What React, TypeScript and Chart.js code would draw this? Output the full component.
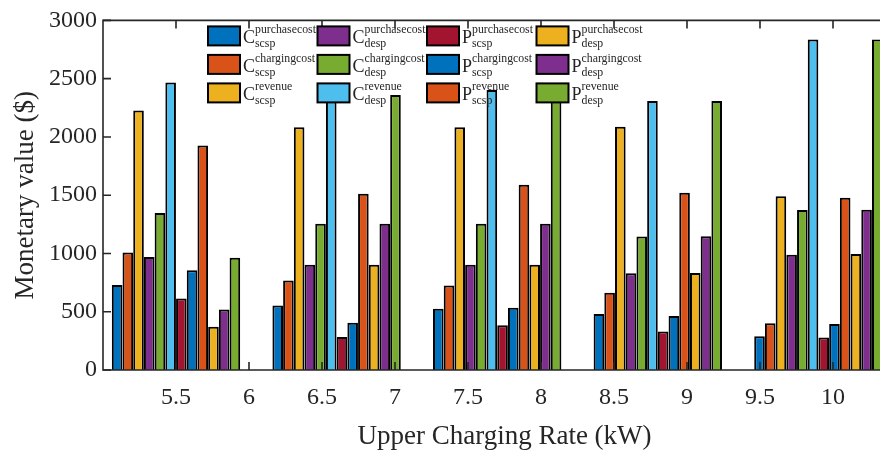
import React, { useEffect, useRef } from "react";
import { Chart, registerables } from "chart.js";

Chart.register(...registerables);

// Group positions on the x axis (kW)
const xValues = [5.5, 6.6, 7.7, 8.8, 9.9];

// Series values ($)
const cPurchaseScsp = [730, 554, 526, 480, 290];
const cChargingScsp = [1009, 767, 725, 662, 401];
const cRevenueScsp = [2226, 2084, 2084, 2087, 1492];
const cPurchaseDesp = [969, 904, 904, 830, 989];
const cChargingDesp = [1347, 1254, 1254, 1146, 1373];
const cRevenueDesp = [2467, 2400, 2402, 2308, 2837];
const pPurchaseScsp = [614, 284, 384, 330, 279];
const pChargingScsp = [856, 406, 534, 463, 395];
const pRevenueScsp = [1927, 1512, 1589, 1521, 1478];
const pPurchaseDesp = [372, 904, 904, 833, 995];
const pChargingDesp = [520, 1254, 1254, 1148, 1376];
const pRevenueDesp = [964, 2359, 2360, 2308, 2837];

const seriesValues = [
  cPurchaseScsp, cChargingScsp, cRevenueScsp,
  cPurchaseDesp, cChargingDesp, cRevenueDesp,
  pPurchaseScsp, pChargingScsp, pRevenueScsp,
  pPurchaseDesp, pChargingDesp, pRevenueDesp,
];

// Legend text parts: main letter, superscript, subscript
const legendMain = ["C", "C", "C", "C", "C", "C", "P", "P", "P", "P", "P", "P"];
const legendSup = [
  "purchasecost", "chargingcost", "revenue",
  "purchasecost", "chargingcost", "revenue",
  "purchasecost", "chargingcost", "revenue",
  "purchasecost", "chargingcost", "revenue",
];
const legendSub = ["scsp", "scsp", "scsp", "desp", "desp", "desp", "scsp", "scsp", "scsp", "desp", "desp", "desp"];

const seriesColors = [
  "#0072BD", "#D95319", "#EDB120",
  "#7E2F8E", "#77AC30", "#4DBEEE",
  "#A2142F", "#0072BD", "#D95319",
  "#EDB120", "#7E2F8E", "#77AC30",
];

const xTickLabels = ["5.5", "6", "6.5", "7", "7.5", "8", "8.5", "9", "9.5", "10"];
const yTickLabels = ["0", "500", "1000", "1500", "2000", "2500", "3000"];

const FONT = "'Liberation Serif', 'Times New Roman', serif";
const INK = "#262626";

const framePlugin = {
  id: "frameAndLegend",
  afterDatasetsDraw(chart: any) {
    const { ctx, chartArea: a, scales } = chart;
    ctx.save();
    ctx.strokeStyle = INK;
    ctx.lineWidth = 1.6;
    ctx.beginPath();
    ctx.rect(a.left, a.top, a.right - a.left, a.bottom - a.top);
    ctx.stroke();
    ctx.beginPath();
    xTickLabels.forEach((t) => {
      const px = scales.x.getPixelForValue(parseFloat(t));
      ctx.moveTo(px, a.bottom);
      ctx.lineTo(px, a.bottom - 8);
      ctx.moveTo(px, a.top);
      ctx.lineTo(px, a.top + 8);
    });
    yTickLabels.forEach((t) => {
      const py = scales.y.getPixelForValue(parseFloat(t));
      ctx.moveTo(a.left, py);
      ctx.lineTo(a.left + 8, py);
      ctx.moveTo(a.right, py);
      ctx.lineTo(a.right - 8, py);
    });
    ctx.stroke();
    ctx.restore();
  },
  afterDraw(chart: any) {
    const { ctx, chartArea: a } = chart;
    ctx.save();
    const x0 = a.left + 105;
    const y0 = a.top + 6;
    const colW = 109.5;
    const rowH = 28.5;
    for (let i = 0; i < seriesValues.length; i++) {
      const col = Math.floor(i / 3);
      const row = i % 3;
      const bx = x0 + col * colW;
      const by = y0 + row * rowH;
      ctx.fillStyle = seriesColors[i];
      ctx.fillRect(bx, by, 32, 19);
      ctx.strokeStyle = "#000";
      ctx.lineWidth = 2;
      ctx.strokeRect(bx, by, 32, 19);
      ctx.fillStyle = INK;
      ctx.textBaseline = "alphabetic";
      ctx.textAlign = "left";
      ctx.font = `18px ${FONT}`;
      const mx = bx + 35;
      ctx.fillText(legendMain[i], mx, by + 17);
      const mw = ctx.measureText(legendMain[i]).width;
      ctx.font = `11.8px ${FONT}`;
      ctx.fillText(legendSup[i], mx + mw, by + 7);
      ctx.fillText(legendSub[i], mx + mw, by + 21);
    }
    ctx.restore();
  },
};

export default function App() {
  const canvasRef = useRef<HTMLCanvasElement | null>(null);

  useEffect(() => {
    const canvas = canvasRef.current;
    if (!canvas) return;
    const chart = new Chart(canvas, {
      type: "bar",
      data: {
        datasets: seriesValues.map((vals, i) => ({
          label: `${legendMain[i]} ${legendSup[i]} ${legendSub[i]}`,
          data: xValues.map((x, j) => ({ x, y: vals[j] })),
          backgroundColor: seriesColors[i],
          borderColor: "#000000",
          borderWidth: 2,
          categoryPercentage: 1.76,
          barPercentage: 0.99,
        })),
      },
      options: {
        responsive: false,
        animation: false,
        devicePixelRatio: 1,
        layout: { padding: { left: 0, top: 13, right: 24, bottom: 0 } },
        plugins: {
          legend: { display: false },
          tooltip: { enabled: false },
        },
        scales: {
          x: {
            type: "linear",
            min: 5,
            max: 10.5,
            offset: false,
            grid: { display: false, drawTicks: false },
            border: { display: false },
            ticks: {
              stepSize: 0.5,
              autoSkip: false,
              maxRotation: 0,
              padding: 13,
              color: INK,
              font: { family: FONT, size: 24 },
              callback: (v: any) => {
                const s = String(v);
                return xTickLabels.includes(s) ? s : "";
              },
            },
            title: {
              display: true,
              text: "Upper Charging Rate (kW)",
              color: INK,
              font: { family: FONT, size: 27 },
              padding: { top: 0, bottom: 1 },
            },
            afterFit: (s: any) => {
              s.height = 84;
            },
          },
          y: {
            min: 0,
            max: 3000,
            grid: { display: false, drawTicks: false },
            border: { display: false },
            ticks: {
              stepSize: 500,
              padding: 6,
              color: INK,
              font: { family: FONT, size: 24 },
              callback: (v: any) => {
                const s = String(v);
                return yTickLabels.includes(s) ? s : "";
              },
            },
            title: {
              display: true,
              text: "Monetary value ($)",
              color: INK,
              font: { family: FONT, size: 27 },
              padding: { top: 10, bottom: 0 },
            },
            afterFit: (s: any) => {
              s.width = 103;
            },
          },
        },
      },
      plugins: [framePlugin],
    });
    return () => chart.destroy();
  }, []);

  return (
    <div
      style={{
        position: "absolute",
        left: 0,
        top: 0,
        width: 880,
        height: 454,
        overflow: "hidden",
        background: "#ffffff",
      }}
    >
      <canvas ref={canvasRef} width={930} height={454} style={{ display: "block" }} />
    </div>
  );
}
